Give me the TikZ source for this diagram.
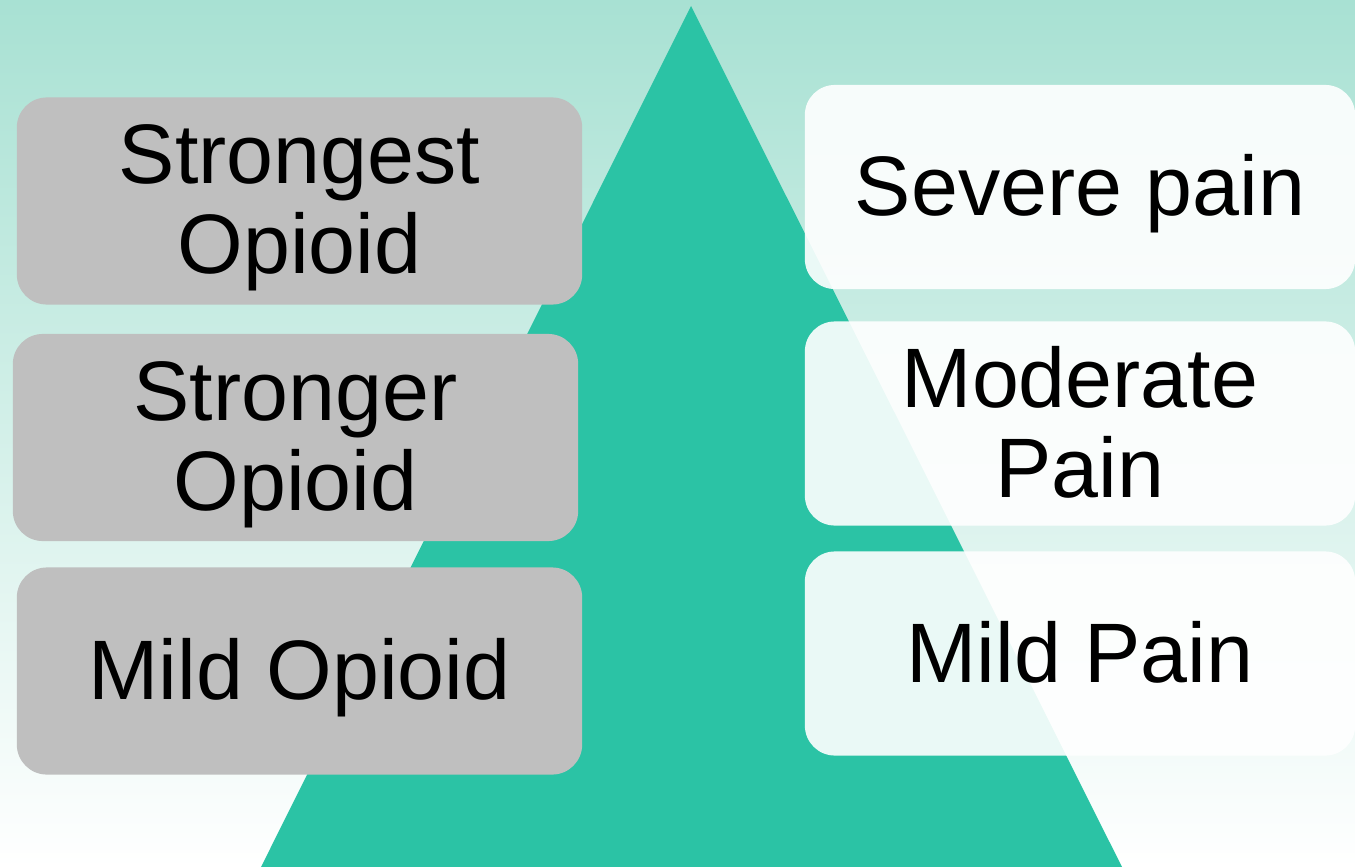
\documentclass[tikz,border=0pt]{standalone}
\usepackage{fontspec}
\setmainfont{Liberation Sans}
\usepackage{xcolor}
\usepackage{tikz}

\definecolor{bgtop}{RGB}{168,225,211}
\definecolor{peak}{RGB}{43,195,165}
\definecolor{drug}{RGB}{191,191,191}

\tikzset{
	drugbox/.style={fill=drug,rounded corners=0.3cm,minimum width=5.65cm,minimum height=2.07cm,align=center,
		text depth=1pt,font=\fontsize{24}{25.5}\selectfont},
	painbox/.style={fill=white,fill opacity=0.9,text opacity=1,rounded corners=0.3cm,minimum width=5.5cm,
		minimum height=2.04cm,align=center,text depth=1pt,font=\fontsize{24}{25.5}\selectfont}
}

\begin{document}
\begin{tikzpicture}[x=0.01cm,y=-0.01cm]
		\useasboundingbox (0,0) rectangle (1355,867);
		\shade [top color=bgtop,bottom color=white] (0,0) rectangle (1355,867);
		\fill [peak] (691,6) -- (1122,867) -- (261,867) -- cycle;
		% drugs
		\node [drugbox] (strongest) at (299.5,201) {Strongest\\Opioid};
		\node [drugbox] (stronger) at (295.5,437.5) {Stronger\\Opioid};
		\node [drugbox] (mild) at (299.5,671) {Mild Opioid};
		% pain
		\node [painbox] (severe) at (1080,187) {Severe pain};
		\node [painbox] (moderate) at (1080,423.5) {Moderate\\Pain};
		\node [painbox] (mildpain) at (1080,653.5) {Mild Pain};
	\end{tikzpicture}
\end{document}
